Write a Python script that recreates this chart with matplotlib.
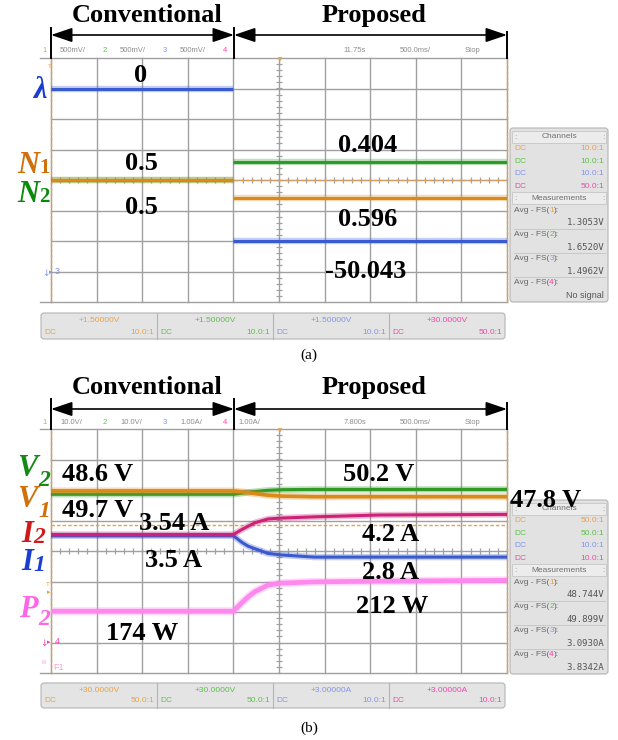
import numpy as np
import matplotlib.pyplot as plt
from matplotlib.patches import FancyBboxPatch, Rectangle

W, H = 618, 740
SERIF = ["Liberation Serif", "DejaVu Serif"]
SANS = ["Liberation Sans", "DejaVu Sans"]
MONO = ["DejaVu Sans Mono"]

# time base: 10 div x 500 ms, controller switched at 2.0 s
T_DIV = 0.5
T_SWITCH = 2.0
T_END = 5.0

# (a) weighting factors, [conventional, proposed]
lam_levels = [0.0, -50.043]
n1_levels = [0.5, 0.596]
n2_levels = [0.5, 0.404]

# (b) transient
t_b = [0.0, 2.0, 2.09, 2.16, 2.24, 2.38, 2.53, 2.89, 3.6, 5.0]
v1 = [49.7, 49.7, 49.4, 49.1, 48.8, 48.3, 48.0, 47.8, 47.8, 47.8]
v2 = [48.6, 48.6, 48.9, 49.2, 49.5, 49.9, 50.1, 50.2, 50.2, 50.2]
i2 = [3.54, 3.54, 3.70, 3.81, 3.93, 4.05, 4.08, 4.12, 4.18, 4.20]
i1 = [3.50, 3.50, 3.29, 3.16, 3.07, 2.92, 2.87, 2.80, 2.80, 2.80]
p2 = [174, 174, 184.5, 192, 199, 207, 209.5, 211, 212, 213]

# scope settings text
hdr_a = ["500mV/", "500mV/", "500mV/", ""]
hdr_b = ["10.0V/", "10.0V/", "1.00A/", "1.00A/"]
time_a = ["11.75s", "500.0ms/", "Stop"]
time_b = ["7.800s", "500.0ms/", "Stop"]
offs_a = ["+1.50000V", "+1.50000V", "+1.50000V", "+30.0000V"]
offs_b = ["+30.0000V", "+30.0000V", "+3.00000A", "+3.00000A"]
ratio_a = ["10.0:1", "10.0:1", "10.0:1", "50.0:1"]
ratio_b = ["50.0:1", "50.0:1", "10.0:1", "10.0:1"]
meas_a = ["1.3053V", "1.6520V", "1.4962V", "No signal"]
meas_b = ["48.744V", "49.899V", "3.0930A", "3.8342A"]

GRID = "#a0a0a0"
CURSOR = "#e8a048"
GRAY = "#8c8c8c"
CH_COL = ["#f0a040", "#5cc048", "#8494ec", "#f048aa"]

fig = plt.figure(figsize=(W / 100, H / 100), dpi=100)
ov = fig.add_axes([0, 0, 1, 1])
ov.set_xlim(0, W)
ov.set_ylim(H, 0)
ov.set_axis_off()
ov.patch.set_visible(False)
ov.set_zorder(10)


def scope(top, bottom):
    ax = fig.add_axes([51 / W, 1 - bottom / H, 456 / W, (bottom - top) / H])
    ax.set_zorder(1)
    ax.set_xlim(0, T_END)
    ax.set_ylim(-4, 4)
    ax.set_xticks([])
    ax.set_yticks([])
    for s in ax.spines.values():
        s.set_visible(False)
    for k in range(11):
        ax.axvline(k * T_DIV, color=GRID, lw=1.0, clip_on=False)
    for k in range(-4, 5):
        ax.axhline(k, color=GRID, lw=1.0, clip_on=False)
    yt = np.arange(-4, 4.01, 0.2)
    ax.plot(np.full_like(yt, 2.5), yt, ls="none", marker="_", ms=4, mew=0.9, color=GRID)
    xt = np.arange(0, T_END + 0.01, 0.1)
    ax.plot(xt, np.zeros_like(xt), ls="none", marker="|", ms=4, mew=0.9, color=GRID)
    for x in (0, T_END):
        ax.axvline(x, color=CURSOR, lw=1.0, ls=(0, (2.5, 1.5)), clip_on=False)
    # left ends of the frame lines
    ov.plot([40, 51], [top, top], color=GRID, lw=1.0)
    ov.plot([40, 51], [bottom, bottom], color=GRID, lw=1.0)
    ov.text(280, top + 2, "▼", color=CURSOR, fontsize=4, ha="center", va="center")
    return ax


def channel(ax, center, per_div, z):
    tw = ax.twinx()
    tw.set_ylim(center - 4 * per_div, center + 4 * per_div)
    tw.set_axis_off()
    tw.set_zorder(z)
    return tw


def trace(tw, t, y, color, lw):
    # soft edge for the noisy scope trace
    tw.plot(t, y, color=color, lw=lw + 2.4, alpha=0.3, solid_capstyle="butt")
    tw.plot(t, y, color=color, lw=lw, solid_capstyle="butt")


def header(y, scales, times):
    xs_num = [45, 105, 165, 225]
    xs_sc = [60, 120, 180, 238]
    for k in range(4):
        ov.text(xs_num[k], y, str(k + 1), color=CH_COL[k], fontsize=5.5,
                family=SANS, ha="center", va="center")
        if scales[k]:
            ov.text(xs_sc[k], y, scales[k], color=GRAY, fontsize=5.5,
                    family=SANS, ha="left", va="center")
    for x, s in zip([355, 415, 473], times):
        ov.text(x, y, s, color=GRAY, fontsize=5.5, family=SANS, ha="center", va="center")


def span_arrows(y_bar, y_arrow, y_title):
    for x in (51, 234, 507):
        ov.plot([x, x], [y_bar + (4 if x == 507 else 0), y_bar + 30], color="k", lw=1.4)
    style = "<|-|>,head_length=0.65,head_width=0.22"
    for xa, xb in ((51, 234), (234, 507)):
        ov.annotate("", xy=(xa, y_arrow), xytext=(xb, y_arrow),
                    arrowprops=dict(arrowstyle=style, mutation_scale=20, color="k",
                                    lw=1.2, shrinkA=0, shrinkB=0))
    ov.text(147, y_title, "Conventional", family=SERIF, weight="bold", fontsize=19,
            ha="center", va="baseline")
    ov.text(374, y_title, "Proposed", family=SERIF, weight="bold", fontsize=19,
            ha="center", va="baseline")


def side_panel(top, ratios, readings):
    ov.add_patch(FancyBboxPatch((510, top), 98, 174, boxstyle="round,pad=0,rounding_size=3",
                                fc="#e2e2e2", ec="#b4b4b4", lw=0.8))
    for y, title in ((top + 9, "Channels"), (top + 70, "Measurements")):
        ov.add_patch(Rectangle((512, y - 6), 94, 12, fc="#ececec", ec="#c6c6c6", lw=0.6))
        ov.text(559, y, title, color="#707070", fontsize=6, family=SANS, ha="center", va="center")
        ov.text(515, y, ":", color="#999999", fontsize=5, ha="center", va="center")
        ov.text(603, y, ":", color="#999999", fontsize=5, ha="center", va="center")
    for k, dy in enumerate([21, 33.5, 45.5, 58]):
        ov.text(514, top + dy, "DC", color=CH_COL[k], fontsize=6, family=SANS, va="center")
        ov.text(604, top + dy, ratios[k], color=CH_COL[k], fontsize=6, family=SANS,
                ha="right", va="center")
    for k, (dl, dv) in enumerate([(83, 94.5), (107, 119), (131, 143), (155, 167)]):
        t0 = ov.text(514, top + dl, "Avg - FS(", color="#666666", fontsize=6,
                     family=SANS, va="center")
        t1 = ov.annotate(str(k + 1), xy=(1, 0), xycoords=t0, va="bottom", ha="left",
                         color=CH_COL[k], fontsize=6, family=SANS)
        ov.annotate("):", xy=(1, 0), xycoords=t1, va="bottom", ha="left",
                    color="#666666", fontsize=6, family=SANS)
        if readings[k] == "No signal":
            ov.text(604, top + dv, readings[k], color="#555555", fontsize=6.5,
                    family=SANS, ha="right", va="center")
        else:
            ov.text(604, top + dv, readings[k], color="#555555", fontsize=6.5,
                    family=MONO, ha="right", va="center")
        ov.plot([514, 605], [top + dv + 6, top + dv + 6], color="#c4c4c4", lw=0.6)


def bottom_box(y0, y1, offsets, ratios):
    xs = [41, 157, 273, 389, 505]
    ov.add_patch(FancyBboxPatch((41, y0), 464, y1 - y0, boxstyle="round,pad=0,rounding_size=3",
                                fc="#e4e4e4", ec="#b4b4b4", lw=0.8))
    for k in range(4):
        xl, xr = xs[k], xs[k + 1]
        if k:
            ov.plot([xl, xl], [y0, y1], color="#b4b4b4", lw=0.8)
        ov.text((xl + xr) / 2, y0 + 8, offsets[k], color=CH_COL[k], fontsize=6,
                family=SANS, ha="center", va="center")
        ov.text(xl + 3, y1 - 7, "DC", color=CH_COL[k], fontsize=6, family=SANS, va="center")
        ov.text(xr - 3, y1 - 7, ratios[k], color=CH_COL[k], fontsize=6, family=SANS,
                ha="right", va="center")


def big(x, y, s):
    ov.text(x, y, s, family=SERIF, weight="bold", fontsize=19, ha="center", va="baseline")


def sym(x, y, s, sub, y_sub, color, sub_italic=False, sub_size=15):
    ov.text(x, y, s, family=SERIF, weight="bold", style="italic", fontsize=22,
            color=color, ha="right", va="baseline")
    ov.text(x, y_sub, sub, family=SERIF, weight="bold",
            style="italic" if sub_italic else "normal", fontsize=sub_size,
            color=color, ha="left", va="baseline")


t_conv = [0.0, T_SWITCH]
t_prop = [T_SWITCH, T_END]

# ---------------- (a) ----------------
ax_a = scope(58, 302)
n_ax = channel(ax_a, 0.5, -1 / 6, 2)
n_ax.axhline(n1_levels[0], color=CURSOR, lw=1.0, ls=(0, (2.5, 1.5)))
for i, tt in enumerate((t_conv, t_prop)):
    trace(n_ax, tt, [n2_levels[i]] * 2, "#2e9a2a", 2.2)
    trace(n_ax, tt, [n1_levels[i]] * 2, "#d98a18", 2.2)
lam_ax = channel(ax_a, -30, 10, 3)
for i, tt in enumerate((t_conv, t_prop)):
    trace(lam_ax, tt, [lam_levels[i]] * 2, "#3a5ad0", 2.2)

header(51, hdr_a, time_a)
span_arrows(28, 35, 22)
side_panel(128, ratio_a, meas_a)
bottom_box(313, 339, offs_a, ratio_a)

ov.text(39.5, 98, "λ", family=SERIF, weight="bold", style="italic", fontsize=22,
        color="#1a3fd0", ha="center", va="baseline")
sym(39.5, 173, "N", "1", 173, "#d0700a")
sym(39.5, 202, "N", "2", 202, "#0a8a0a")
big(141, 82, f"{lam_levels[0]:g}")
big(141, 170, f"{n1_levels[0]:g}")
big(141, 214, f"{n2_levels[0]:g}")
big(368, 152, f"{n2_levels[1]:g}")
big(368, 226, f"{n1_levels[1]:g}")
big(366, 278, f"{lam_levels[1]:g}")

ov.text(50, 67, "T", color=CURSOR, fontsize=4.5, ha="center", va="center")
ov.text(46, 273, "↓", color=CH_COL[2], fontsize=6.5, ha="center", va="center")
ov.text(51, 272, "▸", color=CH_COL[2], fontsize=5, ha="center", va="center")
ov.text(57, 272, "3", color=CH_COL[2], fontsize=6.5, family=SANS, ha="center", va="center")
ov.text(309, 355, "(a)", family=SERIF, fontsize=11, ha="center", va="center")

# ---------------- (b) ----------------
ax_b = scope(429, 673)
v_ax = channel(ax_b, 30, 10, 2)
v_ax.axhline(38.5, color=CURSOR, lw=1.0, ls=(0, (2.5, 1.5)))
trace(v_ax, t_b, v2, "#2e9a22", 2.2)
trace(v_ax, t_b, v1, "#d98a18", 2.6)
i_ax = channel(ax_b, 3, 1, 3)
trace(i_ax, t_b, i1, "#3a5ad0", 2.2)
trace(i_ax, t_b, i2, "#cc2277", 2.2)
p_ax = channel(ax_b, 250, 38.5, 4)
trace(p_ax, t_b, p2, "#ff88ee", 3.4)

header(422, hdr_b, time_b)
span_arrows(399, 409, 394)
side_panel(500, ratio_b, meas_b)
bottom_box(683, 708, offs_b, ratio_b)

sym(38, 476, "V", "2", 486, "#138a13", True, 17)
sym(38, 507, "V", "1", 517, "#d0700a", True, 17)
sym(33, 542, "I", "2", 543, "#d01a1a", True, 17)
sym(33, 570, "I", "1", 571, "#1a3fd0", True, 17)
sym(38, 617, "P", "2", 625, "#ff66e6", True, 17)
big(98, 481, f"{v2[0]:g} V")
big(98, 517, f"{v1[0]:g} V")
big(174, 530, f"{i2[0]:g} A")
big(174, 567, f"{i1[0]:g} A")
big(142, 640, f"{p2[0]:g} W")
big(379, 481, f"{v2[-1]:g} V")
big(546, 507, f"{v1[-1]:g} V")
big(391, 541, f"{i2[-1]:g} A")
big(391, 579, f"{i1[-1]:g} A")
big(392, 613, "212 W")

ov.text(48, 585, "T", color=CURSOR, fontsize=4.5, ha="center", va="center")
ov.text(49, 592, "▸", color=CURSOR, fontsize=5, ha="center", va="center")
ov.text(44, 643, "↓", color=CH_COL[3], fontsize=6.5, ha="center", va="center")
ov.text(49, 642, "▸", color=CH_COL[3], fontsize=5, ha="center", va="center")
ov.text(57, 642, "4", color=CH_COL[3], fontsize=6.5, family=SANS, ha="center", va="center")
ov.text(44, 662, "M", color="#ff99dd", fontsize=3.5, family=SANS, ha="center", va="center")
ov.text(58, 667, "F1", color="#ff99dd", fontsize=6.5, family=SANS, ha="center", va="center")
ov.text(309, 728, "(b)", family=SERIF, fontsize=11, ha="center", va="center")

fig.savefig("out.png", dpi=100)
